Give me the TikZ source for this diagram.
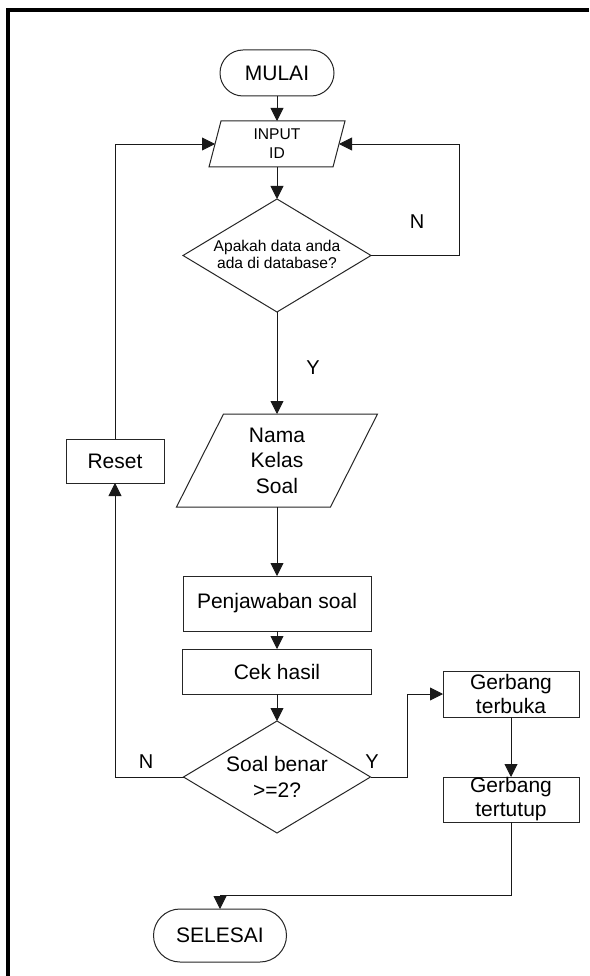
\documentclass[tikz,border=0pt]{standalone}
\usepackage{fontspec}
\setmainfont{Liberation Sans}
\usetikzlibrary{shapes.geometric,shapes.misc,arrows.meta}
\begin{document}
\begin{tikzpicture}[x=1pt,y=-1pt,
  base/.style={draw=black!85,line width=1pt,inner sep=0pt,outer sep=0pt,align=center,font=\fontsize{21}{25}\selectfont},
  term/.style={base,rounded rectangle},
  proc/.style={base,rectangle},
  iobox/.style={inner sep=0pt,outer sep=0pt,align=center},
  ioline/.style={draw=black!85,line width=1pt,line join=miter},
  dec/.style={base,diamond},
  txt/.style={align=center,inner sep=0pt},
  arr/.style={draw=black!90,line width=0.9pt,-{Triangle[length=13pt,width=13pt]}},
  lbl/.style={font=\fontsize{20}{24}\selectfont,inner sep=0pt}]
\useasboundingbox (0,0) rectangle (589,976);
\fill[white] (0,0) rectangle (589,976);
\draw[line width=4pt] (8,976) -- (8,10) -- (589,10);

\node[term,minimum width=114,minimum height=46] (mulai) at (277,73) {MULAI};

\node[iobox,minimum width=136,minimum height=46,font=\fontsize{15.6}{19}\selectfont] (input) at (277,144) {INPUT\\ID};
\draw[ioline] (input.south west) -- ([xshift=-12pt]input.south east) -- (input.north east) -- ([xshift=12pt]input.north west) -- cycle;
\coordinate (inL) at ([xshift=6pt]input.west);
\coordinate (inR) at ([xshift=-6pt]input.east);

\node[dec,minimum width=188,minimum height=113] (d1) at (277,255.5) {};
\node[txt,font=\fontsize{15.6}{17}\selectfont] (d1txt) at (277,254) {Apakah data anda\\ada di database?};

\node[iobox,minimum width=201,minimum height=93,font=\fontsize{21}{25.5}\selectfont] (nama) at (277,460.5) {Nama\\Kelas\\Soal};
\draw[ioline] (nama.south west) -- ([xshift=-47pt]nama.south east) -- (nama.north east) -- ([xshift=47pt]nama.north west) -- cycle;

\node[proc,minimum width=188,minimum height=55] (penj) at (277,603.5) {Penjawaban soal};
\node[proc,minimum width=189,minimum height=45] (cek) at (277,671.5) {Cek hasil};
\node[dec,minimum width=187,minimum height=112] (d2) at (277,777) {};
\node[txt,font=\fontsize{21}{26}\selectfont] (d2txt) at (277,777) {Soal benar\\>=2?};
\node[proc,minimum width=98,minimum height=44] (reset) at (115,461) {Reset};
\node[proc,minimum width=136,minimum height=46,font=\fontsize{21}{24}\selectfont] (g1) at (511,694) {Gerbang\\terbuka};
\node[proc,minimum width=136,minimum height=45,font=\fontsize{21}{24}\selectfont] (g2) at (511,799.5) {Gerbang\\tertutup};
\node[term,minimum width=133,minimum height=53] (selesai) at (220,935.5) {SELESAI};

\node[lbl] (n1) at (417,222) {N};
\node[lbl] (y1) at (313,368) {Y};
\node[lbl] (n2) at (146,762) {N};
\node[lbl] (y2) at (372,762) {Y};

\draw[arr] (mulai) -- (input);
\draw[arr] (input) -- (d1);
\draw[arr] (d1.east) -- ++(88,0) |- (inR);
\draw[arr] (d1) -- (nama);
\draw[arr] (nama) -- (penj);
\draw[arr] (penj) -- (cek);
\draw[arr] (cek) -- (d2);
\draw[arr] (d2.west) -| (reset.south);
\draw[arr] (reset.north) |- (inL);
\draw[arr] (d2.east) -- ++(37,0) |- (g1.west);
\draw[arr] (g1) -- (g2);
\draw[arr] (g2.south) -- ++(0,73) -| (selesai.north);
\end{tikzpicture}
\end{document}
